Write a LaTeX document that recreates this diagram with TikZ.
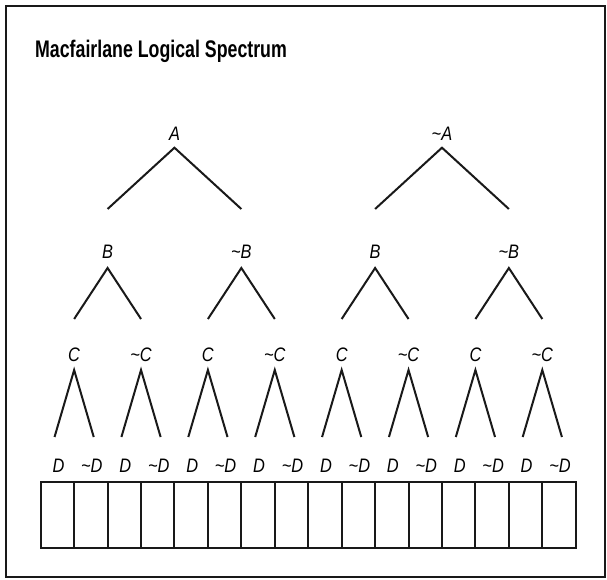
\documentclass[tikz,border=0pt]{standalone}
\usepackage{fontspec}
\setmainfont{Liberation Sans}[FakeStretch=0.74]
\newfontfamily\labfont{Liberation Sans}[FakeStretch=0.84]
\begin{document}
\begin{tikzpicture}[x=1pt,y=-1pt,
  lab/.style={font=\labfont\fontsize{19.5}{21}\selectfont\itshape, anchor=base, inner sep=0pt},
  branch/.style={line width=2pt, line join=miter, draw=black!90},
  cellbox/.style={draw=black!90, line width=2pt, minimum width=33.44pt, minimum height=66pt, inner sep=0pt},
  frame/.style={draw=black!90, line width=2pt}]
\useasboundingbox (0,0) rectangle (607,580);
\draw[frame] (5.5,6) rectangle (605,577);
\node[anchor=base west, font=\fontsize{24}{26}\selectfont\bfseries, inner sep=0pt] (title) at (35,57.5) {Macfairlane Logical Spectrum};
\def\xo{40.7}
\def\w{33.44}
% level A
\foreach \k in {0,1}{
  \pgfmathsetmacro{\x}{\xo+\w*(8*\k+4)}
  \coordinate (ap\k) at (\x,147.7);
  \coordinate (al\k) at (\x-2*\w,209);
  \coordinate (ar\k) at (\x+2*\w,209);
  \node[lab] (a\k) at (\x,140.7) {\ifodd\k\relax\textasciitilde\fi A};
  \draw[branch] (al\k) -- (ap\k) -- (ar\k);
}
% level B
\foreach \k in {0,...,3}{
  \pgfmathsetmacro{\x}{\xo+\w*(4*\k+2)}
  \coordinate (bp\k) at (\x,268);
  \coordinate (bl\k) at (\x-\w,319);
  \coordinate (br\k) at (\x+\w,319);
  \node[lab] (b\k) at (\x,258.3) {\ifodd\k\relax\textasciitilde\fi B};
  \draw[branch] (bl\k) -- (bp\k) -- (br\k);
}
% level C
\foreach \k in {0,...,7}{
  \pgfmathsetmacro{\x}{\xo+\w*(2*\k+1)}
  \coordinate (cp\k) at (\x,370);
  \coordinate (cl\k) at (\x-19.6,437);
  \coordinate (cr\k) at (\x+19.6,437);
  \node[lab] (c\k) at (\x,361.7) {\ifodd\k\relax\textasciitilde\fi C};
  \draw[branch] (cl\k) -- (cp\k) -- (cr\k);
}
% level D and cells
\foreach \k in {0,...,15}{
  \pgfmathsetmacro{\x}{\xo+\w*(\k+0.5)}
  \node[cellbox] (cell\k) at (\x,515) {};
  \node[lab] (d\k) at (\x+1,472.7) {\ifodd\k\relax\textasciitilde\fi D};
}
\end{tikzpicture}
\end{document}
